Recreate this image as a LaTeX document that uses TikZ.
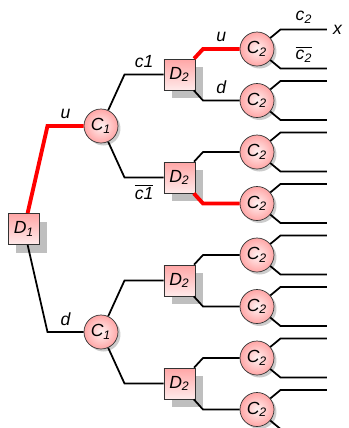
\documentclass[tikz,border=0pt]{standalone}
\usepackage{fontspec}
\setmainfont{Liberation Sans}
\usetikzlibrary{calc,shadows}

\begin{document}
\begin{tikzpicture}[
    font=\itshape,
    decision/.style={draw=black!80,rectangle,minimum size=0.62cm,inner sep=0pt,
      top color=red!35,bottom color=red!8,
      drop shadow={shadow xshift=0.16cm,shadow yshift=-0.16cm,fill=black!25,opacity=1}},
    chance/.style={draw=black!80,circle,minimum size=0.68cm,inner sep=0pt,
      inner color=red!5,outer color=red!35,
      drop shadow={shadow xshift=0.05cm,shadow yshift=-0.05cm,opacity=0.4}},
    fork/.style={to path={-- ($(\tikztotarget -| \tikztostart)+(0.47,0)$) -- (\tikztotarget) \tikztonodes}},
    branch/.style={line width=1pt},
    best/.style={red,line width=2.2pt}
  ]
    \useasboundingbox (0,0) rectangle (6.98,-8.56);

    % Root decision
    \node[decision] (d1) at (0.48,-4.58) {D\textsubscript{1}};

    % First chance nodes
    \node[chance] (c1u) at (2.02,-2.52) {C\textsubscript{1}};
    \node[chance] (c1d) at (2.02,-6.64) {C\textsubscript{1}};

    % Second decisions
    \node[decision] (d2a) at (3.59,-1.49) {D\textsubscript{2}};
    \node[decision] (d2b) at (3.59,-3.55) {D\textsubscript{2}};
    \node[decision] (d2c) at (3.59,-5.61) {D\textsubscript{2}};
    \node[decision] (d2d) at (3.59,-7.67) {D\textsubscript{2}};

    % Second chance nodes and their outcomes
    \foreach \i in {1,...,8} {
      \node[chance] (c2\i) at (5.14,{-0.98-1.03*(\i-1)}) {C\textsubscript{2}};
      \coordinate (hi\i) at (6.54,{-0.59-1.03*(\i-1)});
      \coordinate (lo\i) at (6.54,{-1.37-1.03*(\i-1)});
      \draw[branch] (c2\i) to[fork] (hi\i);
      \draw[branch] (c2\i) to[fork] (lo\i);
    }

    % Branches of the first decision
    \draw[best] (d1) to[fork] node[above,black] {u} (c1u);
    \draw[branch] (d1) to[fork] node[above] {d} (c1d);

    % Branches of the first chance nodes
    \draw[branch] (c1u) to[fork] node[above] {c1} (d2a);
    \draw[branch] (c1u) to[fork] node[below] {$\overline{\mbox{c1}}$} (d2b);
    \draw[branch] (c1d) to[fork] (d2c);
    \draw[branch] (c1d) to[fork] (d2d);

    % Branches of the second decisions
    \draw[best] (d2a) to[fork] node[above,black] {u} (c21);
    \draw[branch] (d2a) to[fork] node[above] {d} (c22);
    \draw[branch] (d2b) to[fork] (c23);
    \draw[best] (d2b) to[fork] (c24);
    \draw[branch] (d2c) to[fork] (c25);
    \draw[branch] (d2c) to[fork] (c26);
    \draw[branch] (d2d) to[fork] (c27);
    \draw[branch] (d2d) to[fork] (c28);

    % Outcome labels
    \node[above] (lblc2) at ($(hi1)+(-0.46,0)$) {c\textsubscript{2}};
    \node[above] (lblnc2) at ($(lo1)+(-0.46,0)$) {$\overline{\mbox{c\textsubscript{2}}}$};
    \node[right] (lblx) at (hi1) {x};
\end{tikzpicture}
\end{document}
